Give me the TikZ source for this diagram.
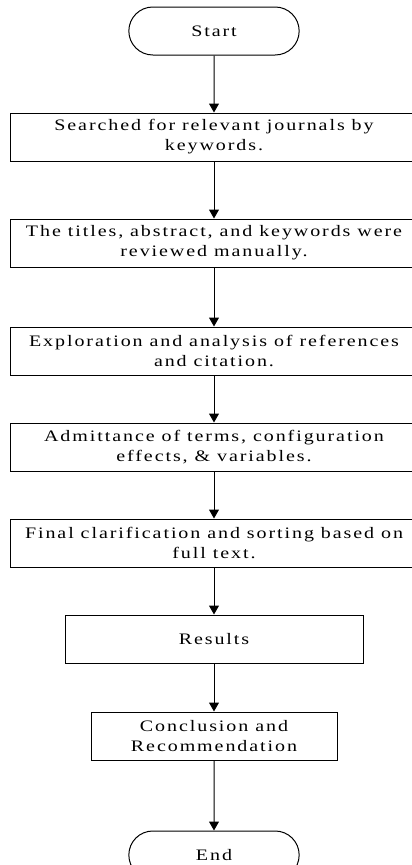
\documentclass[tikz,border=0pt]{standalone}
\usepackage{fontspec}
\usepackage{tikz}
\usetikzlibrary{arrows.meta,positioning,shapes.misc}

\newfontfamily\flowfont[FakeStretch=1.25,LetterSpace=12]{Liberation Serif}

\begin{document}
\begin{tikzpicture}
	[x=1pt,y=-1pt,->,>={Triangle[length=9pt,width=10pt]},line width=1pt,
		node distance=47pt,font=\flowfont\fontsize{16}{20}\selectfont,
		term node/.style={rounded rectangle,draw,minimum width=177pt,minimum height=48pt},
		step node/.style={rectangle,draw,align=center,minimum width=408pt,minimum height=48pt}]

	\useasboundingbox (0,0) rectangle (412,865);

	\node[term node]   (start)   at (214,31)   {Start};
	\node[step node]   (search)  [below=57pt of start]   {Searched for relevant journals by\\keywords.};
	\node[step node]   (review)  [below=57pt of search]  {The titles, abstract, and keywords were\\reviewed manually.};
	\node[step node]   (explore) [below=59pt of review]  {Exploration and analysis of references\\and citation.};
	\node[step node]   (admit)   [below=of explore] {Admittance of terms, configuration\\effects, \& variables.};
	\node[step node]   (final)   [below=of admit]   {Final clarification and sorting based on\\full text.};
	\node[step node, minimum width=298pt]   (results) [below=of final]   {Results};
	\node[step node, minimum width=246pt]   (concl)   [below=48pt of results] {Conclusion and\\Recommendation};
	\node[term node]   (end)     [below=70pt of concl]   {End};

	\path[]
	(start)   edge  (search)
	(search)  edge  (review)
	(review)  edge  (explore)
	(explore) edge  (admit)
	(admit)   edge  (final)
	(final)   edge  (results)
	(results) edge  (concl)
	(concl)   edge  (end)
	;

\end{tikzpicture}
\end{document}
